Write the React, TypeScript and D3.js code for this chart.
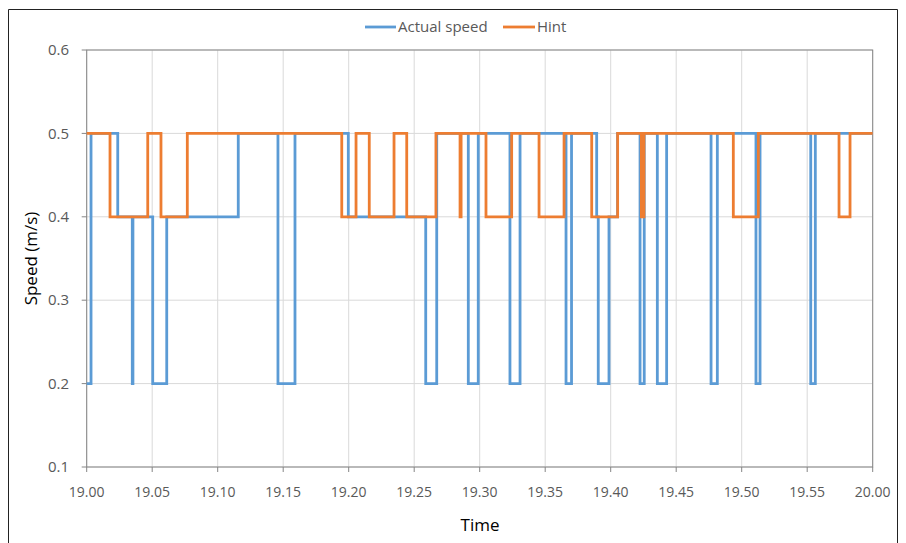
import React from "react";
import * as d3 from "d3";

// Minutes after 19:00 at which each series changes level, and the level it changes to.
const actualTimes = [0, 0.33, 2.37, 3.48, 3.53, 5.04, 6.11, 11.57, 14.6, 15.9, 19.97, 25.88, 26.72, 29.13, 29.89, 32.31, 33.08, 36.59, 37.01, 38.93, 39.05, 39.87, 40.52, 42.24, 42.56, 43.56, 44.27, 47.66, 48.14, 51.09, 51.4, 55.27, 55.62, 60];
const actualValues = [0.2, 0.5, 0.4, 0.2, 0.4, 0.2, 0.4, 0.5, 0.2, 0.5, 0.4, 0.2, 0.5, 0.2, 0.5, 0.2, 0.5, 0.2, 0.5, 0.4, 0.2, 0.4, 0.5, 0.2, 0.5, 0.2, 0.5, 0.2, 0.5, 0.2, 0.5, 0.2, 0.5, 0.5];

const hintTimes = [0, 1.78, 4.66, 5.67, 7.68, 19.47, 20.56, 21.57, 23.46, 24.43, 26.66, 28.5, 28.58, 30.48, 32.44, 34.53, 36.44, 38.55, 40.53, 42.34, 42.54, 49.36, 51.27, 57.43, 58.27, 60];
const hintValues = [0.5, 0.4, 0.5, 0.4, 0.5, 0.4, 0.5, 0.4, 0.5, 0.4, 0.5, 0.4, 0.5, 0.4, 0.5, 0.4, 0.5, 0.4, 0.5, 0.4, 0.5, 0.4, 0.5, 0.4, 0.5, 0.5];

const xTickMinutes = [0, 5, 10, 15, 20, 25, 30, 35, 40, 45, 50, 55, 60];
const xTickLabels = ["19.00", "19.05", "19.10", "19.15", "19.20", "19.25", "19.30", "19.35", "19.40", "19.45", "19.50", "19.55", "20.00"];
const yTicks = [0.1, 0.2, 0.3, 0.4, 0.5, 0.6];

const seriesNames = ["Actual speed", "Hint"];
const seriesColors = ["#5B9BD5", "#ED7D31"];

const W = 906;
const H = 543;
const FONT = "'Open Sans', 'Noto Sans', sans-serif";

export default function App() {
  const x = d3.scaleLinear().domain([0, 60]).range([86.7, 872.7]);
  const y = d3.scaleLinear().domain([0.1, 0.6]).range([467, 50]);

  const line = d3
    .line<[number, number]>()
    .x((d) => x(d[0]))
    .y((d) => y(d[1]))
    .curve(d3.curveStepAfter);

  const actual = actualTimes.map((t, i) => [t, actualValues[i]] as [number, number]);
  const hint = hintTimes.map((t, i) => [t, hintValues[i]] as [number, number]);

  const x0 = x(0);
  const x1 = x(60);
  const yTop = y(0.6);
  const yBot = y(0.1);

  return (
    <svg
      width={W}
      height={H}
      style={{ position: "absolute", left: 0, top: 0, background: "#fff" }}
      fontFamily={FONT}
    >
      <rect x={0} y={0} width={W} height={H} fill="#fff" />
      {/* outer chart frame */}
      <path d={`M8.5,${H} V9.5 H897.5 V${H}`} fill="none" stroke="#222" strokeWidth={1} />

      {/* gridlines */}
      {xTickMinutes.map((m) => (
        <line key={"gx" + m} x1={x(m)} x2={x(m)} y1={yTop} y2={yBot} stroke="#D9D9D9" strokeWidth={1} />
      ))}
      {yTicks.map((v) => (
        <line key={"gy" + v} x1={x0} x2={x1} y1={y(v)} y2={y(v)} stroke="#D9D9D9" strokeWidth={1} />
      ))}

      {/* plot area border and axes */}
      <rect x={x0} y={yTop} width={x1 - x0} height={yBot - yTop} fill="none" stroke="#868686" strokeWidth={1} />
      {yTicks.map((v) => (
        <line key={"ty" + v} x1={x0 - 5} x2={x0} y1={y(v)} y2={y(v)} stroke="#868686" strokeWidth={1} />
      ))}
      {xTickMinutes.map((m) => (
        <line key={"tx" + m} x1={x(m)} x2={x(m)} y1={yBot} y2={yBot + 5} stroke="#868686" strokeWidth={1} />
      ))}

      {/* series */}
      <path d={line(actual) ?? ""} fill="none" stroke={seriesColors[0]} strokeWidth={2.8} strokeLinejoin="miter" />
      <path d={line(hint) ?? ""} fill="none" stroke={seriesColors[1]} strokeWidth={2.8} strokeLinejoin="miter" />

      {/* tick labels */}
      {yTicks.map((v) => (
        <text key={"ly" + v} x={69} y={y(v)} dy="0.35em" textAnchor="end" fontSize={15} fill="#595959">
          {v.toFixed(1)}
        </text>
      ))}
      {xTickMinutes.map((m, i) => (
        <text key={"lx" + m} x={x(m)} y={492} dy="0.35em" textAnchor="middle" fontSize={14} fill="#595959">
          {xTickLabels[i]}
        </text>
      ))}

      {/* axis titles */}
      <text x={480} y={525} dy="0.35em" textAnchor="middle" fontSize={17} fill="#000">
        Time
      </text>
      <text
        transform={`translate(31,${(yTop + yBot) / 2}) rotate(-90)`}
        dy="0.35em"
        textAnchor="middle"
        fontSize={17}
        fill="#000"
      >
        Speed (m/s)
      </text>

      {/* legend */}
      <line x1={365} x2={396} y1={27} y2={27} stroke={seriesColors[0]} strokeWidth={2.8} />
      <text x={398} y={27} dy="0.35em" fontSize={15} fill="#595959">
        {seriesNames[0]}
      </text>
      <line x1={503} x2={535} y1={27} y2={27} stroke={seriesColors[1]} strokeWidth={2.8} />
      <text x={537} y={27} dy="0.35em" fontSize={15} fill="#595959">
        {seriesNames[1]}
      </text>
    </svg>
  );
}
